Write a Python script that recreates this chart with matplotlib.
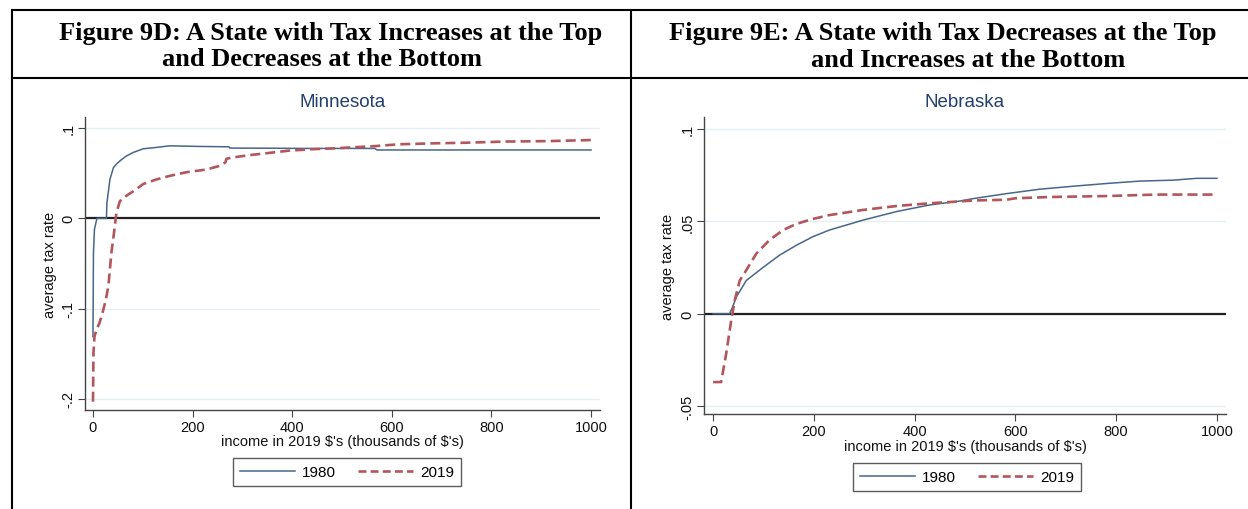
import matplotlib
matplotlib.use("Agg")
import matplotlib.pyplot as plt
from matplotlib.lines import Line2D

# data: income (thousands of 2019 $) and average tax rate
mn_x_1980 = [0, 1, 3, 8, 27, 28, 34, 41, 47, 55, 67, 81, 101, 127, 154, 214, 273, 275, 367, 430, 500, 566, 570, 700, 850, 1000]
mn_y_1980 = [-0.131, -0.038, -0.012, 0.0, 0.0, 0.017, 0.043, 0.056, 0.060, 0.064, 0.069, 0.073, 0.077, 0.0785, 0.0803, 0.0796, 0.0792, 0.0778, 0.0776, 0.0774, 0.0774, 0.0774, 0.0757, 0.0757, 0.0757, 0.0757]
mn_x_2019 = [0, 1, 3, 7, 13, 19, 25, 31, 37, 44, 47, 54, 67, 81, 101, 127, 154, 187, 227, 254, 266, 268, 281, 314, 347, 394, 447, 481, 567, 614, 681, 747, 827, 914, 1000]
mn_y_2019 = [-0.203, -0.149, -0.131, -0.123, -0.116, -0.105, -0.092, -0.075, -0.038, -0.0085, 0.006, 0.019, 0.025, 0.030, 0.038, 0.043, 0.047, 0.051, 0.054, 0.058, 0.062, 0.066, 0.0674, 0.070, 0.072, 0.075, 0.0767, 0.0774, 0.080, 0.082, 0.083, 0.0837, 0.085, 0.0855, 0.0867]

ne_x_1980 = [0, 33, 40, 46, 66, 99, 132, 165, 198, 231, 298, 364, 430, 490, 516, 582, 648, 714, 781, 847, 913, 960, 1000]
ne_y_1980 = [0.0, 0.0, 0.0045, 0.009, 0.018, 0.025, 0.0317, 0.037, 0.0417, 0.0453, 0.0507, 0.0553, 0.0589, 0.061, 0.0623, 0.065, 0.0674, 0.069, 0.0705, 0.0718, 0.0723, 0.0733, 0.0733]
ne_x_2019 = [0, 16, 26, 36, 43, 53, 66, 86, 112, 139, 165, 198, 231, 298, 364, 430, 490, 516, 582, 600, 671, 781, 880, 1000]
ne_y_2019 = [-0.037, -0.037, -0.0217, -0.0036, 0.0072, 0.018, 0.0236, 0.0326, 0.0399, 0.0453, 0.0486, 0.0513, 0.0534, 0.0562, 0.0583, 0.0598, 0.0608, 0.0613, 0.0617, 0.0625, 0.0632, 0.0637, 0.0645, 0.0645]

x_ticks = [0, 200, 400, 600, 800, 1000]
mn_y_ticks = [-0.2, -0.1, 0, 0.1]
mn_y_labels = ["-.2", "-.1", "0", ".1"]
ne_y_ticks = [-0.05, 0, 0.05, 0.1]
ne_y_labels = ["-.05", "0", ".05", ".1"]

W, H = 1248, 510
C1980 = "#46668a"
C2019 = "#b3565b"
GRID = "#e4eef0"
TITLE_C = "#223f6e"

plt.rcParams["font.family"] = ["Liberation Sans", "DejaVu Sans"]
fig = plt.figure(figsize=(W / 100, H / 100), dpi=100)


def fx(px):
    return px / W


def fy(py):
    return 1 - py / H


def pixel_axes(l, t, r, b):
    return fig.add_axes([fx(l), fy(b), (r - l) / W, (b - t) / H])


def draw_panel(box, xlim, ylim, x80, y80, x19, y19, yticks, ylabels, name, title_y, xlab_y, ylab_x, leg_c):
    ax = pixel_axes(*box)
    ax.set_xlim(*xlim)
    ax.set_ylim(*ylim)
    for yt in yticks:
        ax.axhline(yt, color=GRID, lw=1.0, zorder=0)
    ax.axhline(0, color="#222222", lw=1.6, zorder=1)
    ax.plot(x80, y80, color=C1980, lw=1.1, zorder=3)
    ax.plot(x19, y19, color=C2019, lw=1.9, dashes=(3.8, 1.9), zorder=3)
    for s in ["top", "right"]:
        ax.spines[s].set_visible(False)
    for s in ["left", "bottom"]:
        ax.spines[s].set_color("#444444")
        ax.spines[s].set_linewidth(1.0)
    ax.set_xticks(x_ticks)
    ax.set_xticklabels([str(v) for v in x_ticks])
    ax.set_yticks(yticks)
    ax.set_yticklabels(ylabels, rotation=90, va="center")
    ax.tick_params(axis="both", direction="out", length=5, width=0.8, color="#444444",
                   labelsize=10.5, labelcolor="#111111", pad=2)
    cx = (box[0] + box[2]) / 2
    fig.text(fx(cx), fy(title_y), name, ha="center", va="center", fontsize=13.5, color=TITLE_C)
    fig.text(fx(cx), fy(xlab_y), "income in 2019 \\$'s (thousands of \\$'s)", ha="center", va="center",
             fontsize=10.5, color="#111111")
    fig.text(fx(ylab_x), fy((box[1] + box[3]) / 2), "average tax rate", ha="center", va="center",
             rotation=90, fontsize=10.5, color="#111111")
    handles = [Line2D([], [], color=C1980, lw=1.1),
               Line2D([], [], color=C2019, lw=1.9, dashes=(3, 1.6))]
    leg = ax.legend(handles, ["1980", "2019"], ncol=2, loc="center",
                    bbox_to_anchor=(fx(leg_c[0]), fy(leg_c[1])), bbox_transform=fig.transFigure,
                    frameon=True, fancybox=False, edgecolor="#333333", fontsize=11,
                    handlelength=3.6, columnspacing=1.5, handletextpad=0.45,
                    borderpad=0.45, borderaxespad=0)
    leg.get_frame().set_linewidth(1.0)
    return ax


draw_panel((85, 118, 600, 411), (-16, 1018), (-0.2122, 0.1122),
           mn_x_1980, mn_y_1980, mn_x_2019, mn_y_2019, mn_y_ticks, mn_y_labels,
           "Minnesota", 103, 442, 50, (347, 473))
draw_panel((704, 118, 1226, 415), (-18, 1018), (-0.0543, 0.1065),
           ne_x_1980, ne_y_1980, ne_x_2019, ne_y_2019, ne_y_ticks, ne_y_labels,
           "Nebraska", 103, 447, 668, (967, 478))

# table borders
lines = [((12, 1248), (11, 11)), ((12, 12), (11, 510)), ((631, 631), (11, 510)),
         ((12, 1248), (79, 79))]
for xs, ys in lines:
    fig.add_artist(Line2D([fx(x) for x in xs], [fy(y) for y in ys], color="black", lw=1.5))

# header text (baseline positions)
serif = ["Liberation Serif", "DejaVu Serif"]
hdr = [("Figure 9D: A State with Tax Increases at the Top", 331, 40),
       ("and Decreases at the Bottom", 322, 66),
       ("Figure 9E: A State with Tax Decreases at the Top", 943, 40),
       ("and Increases at the Bottom", 968, 67)]
for txt, x, y in hdr:
    fig.text(fx(x), fy(y), txt, ha="center", va="baseline", family=serif,
             fontweight="bold", fontsize=19, color="black")

fig.savefig("out.png", dpi=100)
